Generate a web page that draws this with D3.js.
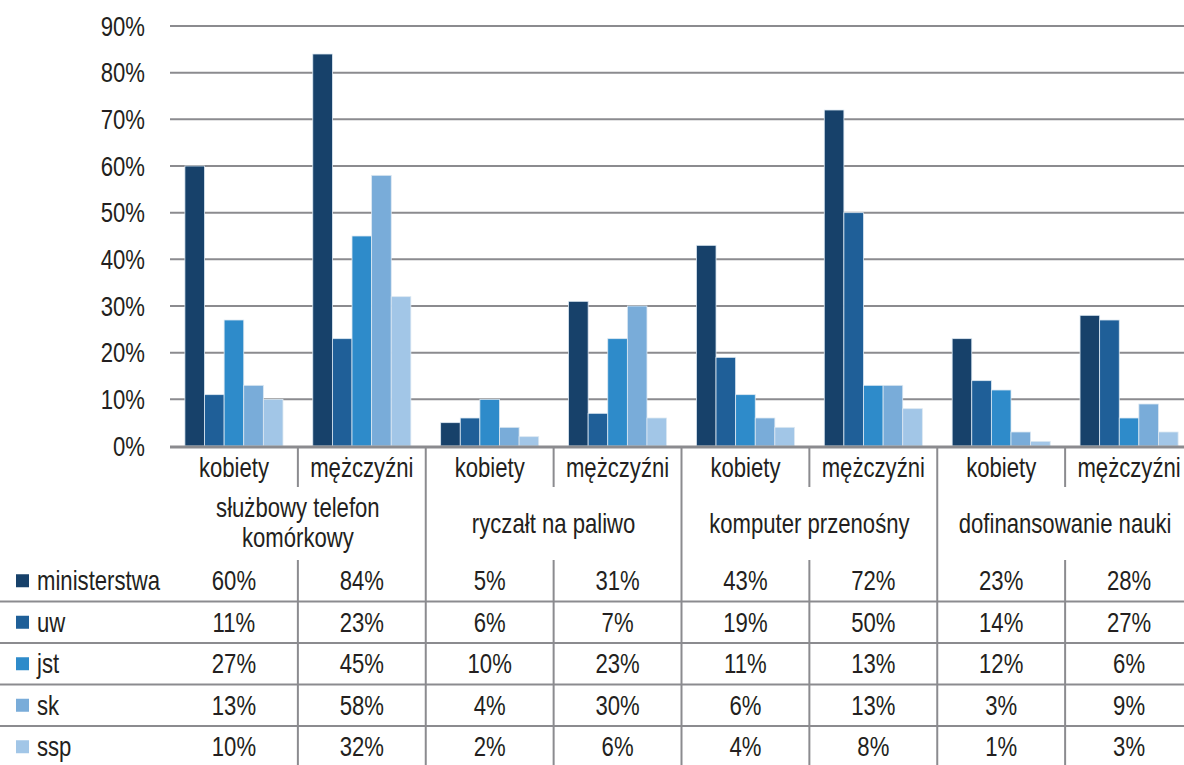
<!DOCTYPE html>
<html>
<head>
<meta charset="utf-8">
<script src="https://d3js.org/d3.v7.min.js"></script>
<style>
  body { margin: 0; background: #fff; }
  svg text { font-family: "Liberation Sans Narrow", "Arial Narrow", "Liberation Sans", Arial, sans-serif; fill: #231f20; font-size: 27px; }
</style>
</head>
<body>
<svg width="1184" height="765"></svg>
<script>
// data
const groups = ["służbowy telefon\nkomórkowy", "ryczałt na paliwo", "komputer przenośny", "dofinansowanie nauki"];
const sexes = ["kobiety", "mężczyźni"];
const seriesNames = ["ministerstwa", "uw", "jst", "sk", "ssp"];
const ministerstwa = [60, 84, 5, 31, 43, 72, 23, 28];
const uw = [11, 23, 6, 7, 19, 50, 14, 27];
const jst = [27, 45, 10, 23, 11, 13, 12, 6];
const sk = [13, 58, 4, 30, 6, 13, 3, 9];
const ssp = [10, 32, 2, 6, 4, 8, 1, 3];
const yTicks = [0, 10, 20, 30, 40, 50, 60, 70, 80, 90];
const colors = ["#17416a", "#1f5f98", "#2e8bca", "#79acd9", "#a2c6e7"];

const values = [ministerstwa, uw, jst, sk, ssp];
const cols = [];
groups.forEach((g, gi) => sexes.forEach((s, si) => cols.push(gi * 2 + si)));

const svg = d3.select("svg");
const left = 170, right = 1193, y0 = 446, yTop = 26;
const gridColor = "#8b8b8f";
const squeeze = 0.82; // narrow-font look with the regular face

// text helper: regular sans squeezed horizontally
function label(parent, x, y, txt, anchor, dy) {
  return parent.append("text")
    .attr("transform", "translate(" + x + "," + y + ") scale(" + squeeze + ",1)")
    .attr("text-anchor", anchor || "start")
    .attr("dy", dy || 0)
    .text(txt);
}

const x = d3.scaleBand().domain(cols).range([left, right]).padding(0);
const xs = d3.scaleBand().domain(seriesNames).range([0, x.bandwidth()]).paddingInner(0).paddingOuter(0.76);
const y = d3.scaleLinear().domain([0, 90]).range([y0, yTop]);

// gridlines
svg.append("g").selectAll("line").data(yTicks.filter(t => t > 0)).join("line")
  .attr("x1", left).attr("x2", right)
  .attr("y1", d => y(d)).attr("y2", d => y(d))
  .attr("stroke", gridColor).attr("stroke-width", 2);

// y labels
const yl = svg.append("g");
yTicks.forEach(t => label(yl, 145, y(t), t + "%", "end", "0.36em"));

// bars
seriesNames.forEach((name, si) => {
  svg.append("g").selectAll("rect").data(values[si]).join("rect")
    .attr("x", (d, i) => x(i) + xs(name))
    .attr("width", xs.bandwidth())
    .attr("y", d => y(d))
    .attr("height", d => y0 - y(d))
    .attr("fill", colors[si])
    .attr("stroke", "#dce8f2").attr("stroke-width", 0.8);
});

// baseline axis
svg.append("line").attr("x1", left).attr("x2", right).attr("y1", y0 + 1).attr("y2", y0 + 1)
  .attr("stroke", gridColor).attr("stroke-width", 3);

// table geometry
const catRowBottom = 487, groupRowBottom = 560, rowH = 41.5, bottom = 765;

// category labels
const cl = svg.append("g");
cols.forEach(c => label(cl, x(c) + x.bandwidth() / 2, 477, sexes[c % 2], "middle"));

// group labels
const gl = svg.append("g");
groups.forEach((g, gi) => {
  const cx = x(gi * 2) + x.bandwidth();
  const lines = g.split("\n");
  lines.forEach((l, li) => {
    label(gl, cx, lines.length === 1 ? 533 : 517 + li * 30, l, "middle");
  });
});

// vertical separators
cols.forEach(c => {
  if (c === 0) return;
  const xx = x(c);
  if (c % 2 === 0) {
    svg.append("line").attr("x1", xx).attr("x2", xx).attr("y1", y0).attr("y2", bottom)
      .attr("stroke", gridColor).attr("stroke-width", 2);
  } else {
    svg.append("line").attr("x1", xx).attr("x2", xx).attr("y1", y0).attr("y2", catRowBottom)
      .attr("stroke", gridColor).attr("stroke-width", 2);
    svg.append("line").attr("x1", xx).attr("x2", xx).attr("y1", groupRowBottom).attr("y2", bottom)
      .attr("stroke", gridColor).attr("stroke-width", 2);
  }
});

// data rows
seriesNames.forEach((name, si) => {
  const top = groupRowBottom + si * rowH;
  if (si > 0) {
    svg.append("line").attr("x1", 0).attr("x2", 1184).attr("y1", top).attr("y2", top)
      .attr("stroke", gridColor).attr("stroke-width", 2);
  }
  const cy = top + rowH / 2;
  svg.append("rect").attr("x", 16).attr("y", cy - 6.5).attr("width", 13).attr("height", 13)
    .attr("fill", colors[si]);
  const row = svg.append("g");
  label(row, 37, cy, name, "start", "0.36em");
  values[si].forEach((v, i) => label(row, x(i) + x.bandwidth() / 2, cy, v + "%", "middle", "0.36em"));
});
</script>
</body>
</html>
